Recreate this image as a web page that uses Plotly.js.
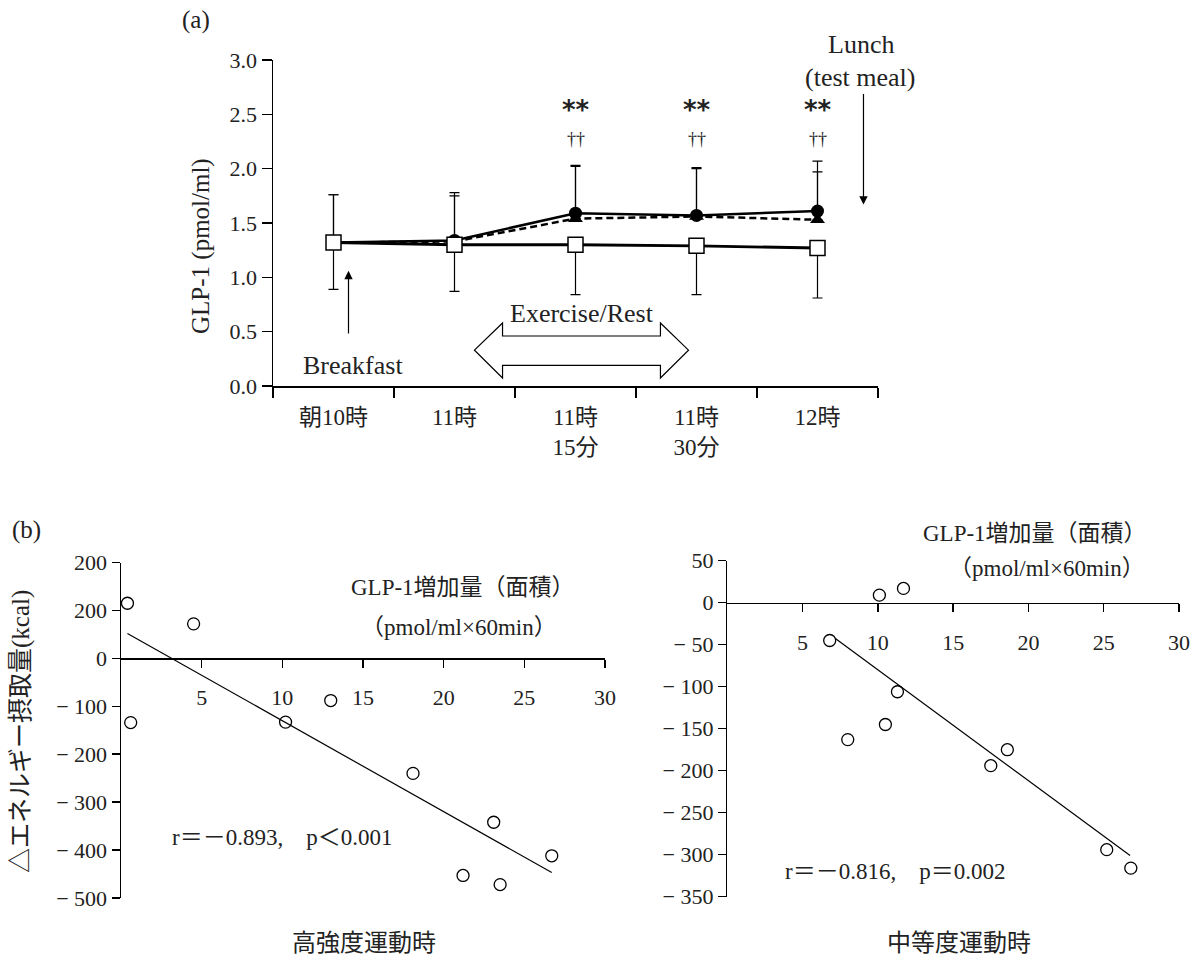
<!DOCTYPE html>
<html>
<head>
<meta charset="utf-8">
<script src="https://cdn.plot.ly/plotly-3.0.1.min.js"></script>
<style>html,body{margin:0;padding:0;background:#fff;}#chart{width:1199px;height:958px;}</style>
</head>
<body>
<div id="chart"></div>
<script>
// ---- Data (a) ----
const timeLabels = ["朝10時", "11時", "11時<br>15分", "11時<br>30分", "12時"];
const highMean = [1.32, 1.34, 1.59, 1.57, 1.61];
const highSD   = [0.44, 0.44, 0.44, 0.44, 0.46];
const modMean  = [1.32, 1.33, 1.54, 1.56, 1.53];
const modSD    = [0.44, 0.42, 0.48, 0.44, 0.44];
const restMean = [1.32, 1.30, 1.30, 1.29, 1.27];
const restSD   = [0.43, 0.43, 0.46, 0.45, 0.46];
const sigIdx   = [2, 3, 4];

// ---- Data (b) left: high intensity ----
const hiX = [0.4, 0.6, 4.5, 10.2, 13.0, 18.1, 21.2, 23.1, 23.5, 26.7];
const hiY = [115, -134, 72, -133, -88, -240, -453, -342, -472, -412];
const hiFitX = [0.4, 26.7];
const hiFitY = [52, -447];

// ---- Data (b) right: moderate intensity ----
const modX = [10.1, 11.7, 6.8, 8.0, 10.5, 11.3, 17.5, 18.6, 25.2, 26.8];
const modY = [9, 17, -45, -163, -145, -106, -194, -175, -294, -316];
const modFitX = [7.2, 26.75];
const modFitY = [-43, -301];

// tick labels
const xTickVals = [5, 10, 15, 20, 25, 30];
const leftYVals = [200, 100, 0, -100, -200, -300, -400, -500];
const leftYText = ["200", "200", "0", "− 100", "− 200", "− 300", "− 400", "− 500"];
const rightYVals = [50, 0, -50, -100, -150, -200, -250, -300, -350];
const rightYText = ["50", "0", "− 50", "− 100", "− 150", "− 200", "− 250", "− 300", "− 350"];

const FONT = "Liberation Serif, Noto Sans CJK JP, serif";
const TXT = "#222";
const W = 1199, H = 958;
const px = v => v / W;
const py = v => 1 - v / H;

const zeros = timeLabels.map(() => 0);

const traces = [
  {
    x: timeLabels, y: highMean, type: "scatter", mode: "lines+markers",
    line: {color: "#000", width: 2.5},
    marker: {symbol: "circle", size: 13, color: "#000"},
    error_y: {type: "data", symmetric: false, array: highSD, arrayminus: zeros,
              color: "#000", thickness: 1.2, width: 5},
    xaxis: "x", yaxis: "y", showlegend: false, hoverinfo: "skip"
  },
  {
    x: timeLabels, y: modMean, type: "scatter", mode: "lines+markers",
    line: {color: "#000", width: 2.5, dash: "7px,4px"},
    marker: {symbol: "triangle-up", size: 13, color: "#000"},
    error_y: {type: "data", symmetric: false, array: modSD, arrayminus: zeros,
              color: "#000", thickness: 1.2, width: 5},
    xaxis: "x", yaxis: "y", showlegend: false, hoverinfo: "skip"
  },
  {
    x: timeLabels, y: restMean, type: "scatter", mode: "lines+markers",
    line: {color: "#000", width: 2.8},
    marker: {symbol: "square", size: 15, color: "#fff", line: {color: "#000", width: 1.5}},
    error_y: {type: "data", symmetric: false, array: zeros, arrayminus: restSD,
              color: "#000", thickness: 1.2, width: 5},
    xaxis: "x", yaxis: "y", showlegend: false, hoverinfo: "skip"
  },
  {
    x: hiFitX, y: hiFitY, type: "scatter", mode: "lines",
    line: {color: "#000", width: 1.2}, xaxis: "x2", yaxis: "y2",
    showlegend: false, hoverinfo: "skip", cliponaxis: false
  },
  {
    x: hiX, y: hiY, type: "scatter", mode: "markers",
    marker: {symbol: "circle-open", size: 12, color: "#000", line: {width: 1.3}},
    xaxis: "x2", yaxis: "y2", showlegend: false, hoverinfo: "skip", cliponaxis: false
  },
  {
    x: modFitX, y: modFitY, type: "scatter", mode: "lines",
    line: {color: "#000", width: 1.2}, xaxis: "x3", yaxis: "y3",
    showlegend: false, hoverinfo: "skip", cliponaxis: false
  },
  {
    x: modX, y: modY, type: "scatter", mode: "markers",
    marker: {symbol: "circle-open", size: 12, color: "#000", line: {width: 1.3}},
    xaxis: "x3", yaxis: "y3", showlegend: false, hoverinfo: "skip", cliponaxis: false
  }
];

const axCommon = {
  showgrid: false, zeroline: false, showline: true, linecolor: "#000", linewidth: 1.5,
  ticks: "outside", tickcolor: "#000", tickwidth: 1.5, ticklen: 8,
  tickfont: {family: FONT, size: 22, color: TXT}, fixedrange: true
};

const layout = {
  width: W, height: H,
  margin: {l: 0, r: 0, t: 0, b: 0, pad: 0},
  paper_bgcolor: "#fff", plot_bgcolor: "rgba(0,0,0,0)",
  font: {family: FONT, size: 22, color: TXT},
  showlegend: false,
  xaxis: Object.assign({}, axCommon, {
    domain: [px(273), px(878)], anchor: "y", type: "category",
    range: [-0.5, 4.5], tickson: "boundaries", ticklen: 10,
    categoryorder: "array", categoryarray: timeLabels,
    tickfont: {family: FONT, size: 23, color: TXT}, ticklabelstandoff: 10
  }),
  yaxis: Object.assign({}, axCommon, {
    domain: [py(386), py(60)], anchor: "x", range: [0, 3], dtick: 0.5,
    tickformat: ".1f", ticklen: 10
  }),
  xaxis2: Object.assign({}, axCommon, {
    domain: [px(121), px(605)], anchor: "free", position: py(658.3),
    range: [0, 30], tickvals: xTickVals, ticklabelstandoff: 11
  }),
  yaxis2: Object.assign({}, axCommon, {
    domain: [py(898), py(562.5)], anchor: "x2", range: [-500, 200],
    tickvals: leftYVals, ticktext: leftYText
  }),
  xaxis3: Object.assign({}, axCommon, {
    domain: [px(727.3), px(1179)], anchor: "free", position: py(602.7),
    range: [0, 30], tickvals: xTickVals, ticklabelstandoff: 11
  }),
  yaxis3: Object.assign({}, axCommon, {
    domain: [py(896.7), py(560.7)], anchor: "x3", range: [-350, 50],
    tickvals: rightYVals, ticktext: rightYText
  }),
  shapes: [
    {
      type: "path", xref: "x", yref: "y",
      path: "M 1.165,0.33 L 1.397,0.58 L 1.397,0.46 L 2.702,0.46 L 2.702,0.58 L 2.934,0.33 " +
            "L 2.702,0.074 L 2.702,0.19 L 1.397,0.19 L 1.397,0.074 Z",
      fillcolor: "#fff", line: {color: "#000", width: 1.2}, layer: "above"
    }
  ],
  annotations: []
};

const ann = layout.annotations;
function txt(o) {
  ann.push(Object.assign({showarrow: false, xanchor: "center", yanchor: "middle",
                          font: {family: FONT, size: 22, color: TXT}}, o));
}
const f = s => ({family: FONT, size: s, color: TXT});

// (a) panel texts
txt({text: "(a)", xref: "paper", yref: "paper", x: px(196), y: py(20), font: f(25)});
txt({text: "GLP-1 (pmol/ml)", xref: "paper", yref: "paper", x: px(201), y: py(246), textangle: -90, font: f(25)});
txt({text: "Lunch", xref: "paper", yref: "paper", x: px(861), y: py(45), font: f(26)});
txt({text: "(test meal)", xref: "paper", yref: "paper", x: px(860), y: py(77), font: f(26)});
txt({text: "Breakfast", xref: "x", yref: "y", x: 0.165, y: 0.19, font: f(26)});
txt({text: "Exercise/Rest", xref: "x", yref: "y", x: 2.05, y: 0.67, font: f(26)});
sigIdx.forEach(i => {
  txt({text: "<b>**</b>", xref: "x", yref: "y", x: i, y: (386 - 110) / 108.67,
       font: {family: "DejaVu Sans, sans-serif", size: 26, color: TXT}});
  txt({text: "††", xref: "x", yref: "y", x: i, y: (386 - 139) / 108.67, font: f(18)});
});
// arrows
ann.push({xref: "x", yref: "y", axref: "x", ayref: "y", x: 0.124, y: 1.06, ax: 0.124, ay: 0.47,
          text: "", showarrow: true, arrowhead: 2, arrowsize: 1.4, arrowwidth: 1.2, arrowcolor: "#000"});
ann.push({xref: "x", yref: "y", axref: "x", ayref: "y", x: 4.38, y: 1.67, ax: 4.38, ay: 2.70,
          text: "", showarrow: true, arrowhead: 2, arrowsize: 1.4, arrowwidth: 1.2, arrowcolor: "#000"});

// (b) panel texts
txt({text: "(b)", xref: "paper", yref: "paper", x: px(26), y: py(530), font: f(25)});
txt({text: "△エネルギー摂取量(kcal)", xref: "paper", yref: "paper", x: px(21), y: py(732), textangle: -90, font: f(25)});
txt({text: "GLP-1増加量（面積）", xref: "paper", yref: "paper", x: px(463), y: py(587), font: f(23)});
txt({text: "（pmol/ml×60min）", xref: "paper", yref: "paper", x: px(459), y: py(627), font: f(23)});
txt({text: "r＝－0.893,　p＜0.001", xref: "x2", yref: "y2", x: 3.04, y: -374, xanchor: "left", font: f(23)});
txt({text: "高強度運動時", xref: "paper", yref: "paper", x: px(364), y: py(943), font: f(24)});
txt({text: "GLP-1増加量（面積）", xref: "paper", yref: "paper", x: px(1035), y: py(533), font: f(23)});
txt({text: "（pmol/ml×60min）", xref: "paper", yref: "paper", x: px(1047), y: py(568), font: f(23)});
txt({text: "r＝－0.816,　p＝0.002", xref: "x3", yref: "y3", x: 3.7, y: -320, xanchor: "left", font: f(23)});
txt({text: "中等度運動時", xref: "paper", yref: "paper", x: px(959), y: py(943), font: f(24)});

Plotly.newPlot("chart", traces, layout, {staticPlot: true, displayModeBar: false});
</script>
</body>
</html>
